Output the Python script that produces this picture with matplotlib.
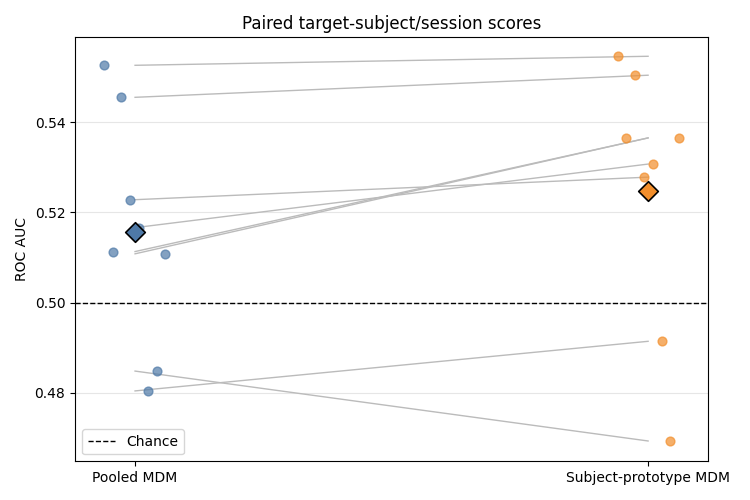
import numpy as np
import matplotlib.pyplot as plt

# paired ROC AUC scores, one per target subject/session
methods = ["Pooled MDM", "Subject-prototype MDM"]
pooled = [0.5526, 0.5455, 0.5228, 0.5166, 0.5113, 0.5108, 0.4848, 0.4804]
proto = [0.5546, 0.5504, 0.5278, 0.5307, 0.5365, 0.5365, 0.4693, 0.4914]
# horizontal jitter of the dots
jit_pooled = [-0.060, -0.027, -0.010, 0.008, -0.043, 0.059, 0.043, 0.025]
jit_proto = [-0.059, -0.025, -0.008, 0.010, -0.043, 0.060, 0.043, 0.027]

blue = "#4e79a7"
orange = "#f28e2b"

fig, ax = plt.subplots(figsize=(7.5, 5), dpi=100)

for a, b in zip(pooled, proto):
    ax.plot([0, 1], [a, b], color="#bbbbbb", lw=1, zorder=1)

ax.scatter(np.array(jit_pooled), pooled, s=40, color=blue, alpha=0.7, zorder=2)
ax.scatter(1 + np.array(jit_proto), proto, s=40, color=orange, alpha=0.7, zorder=2)

ax.scatter([0], [np.mean(pooled)], marker="D", s=100, color=blue,
           edgecolor="black", linewidth=1.2, zorder=3)
ax.scatter([1], [np.mean(proto)], marker="D", s=100, color=orange,
           edgecolor="black", linewidth=1.2, zorder=3)

ax.axhline(0.5, color="black", ls="--", lw=1, label="Chance")

ax.set_xticks([0, 1])
ax.set_xticklabels(methods)
ax.set_yticks([0.48, 0.50, 0.52, 0.54])
ax.set_ylim(0.4648, 0.5588)
ax.set_xlim(-0.117, 1.117)
ax.set_ylabel("ROC AUC")
ax.set_title("Paired target-subject/session scores")
ax.grid(axis="y", color="#e6e6e6", lw=0.8)
ax.set_axisbelow(True)
ax.legend(loc="lower left")

plt.tight_layout()
plt.savefig("out.png")
